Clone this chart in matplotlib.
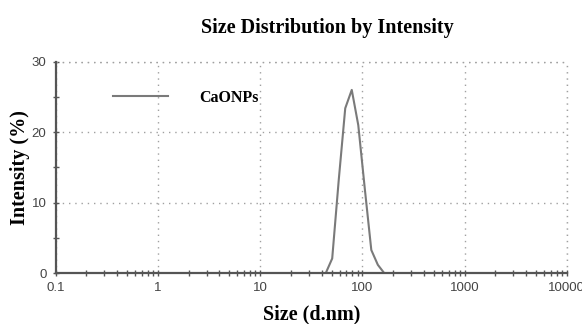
import matplotlib
matplotlib.use("Agg")
import matplotlib.pyplot as plt
from matplotlib.ticker import LogLocator, FixedLocator, NullFormatter

sizes = [0.4, 43.82, 50.75, 58.77, 68.06, 78.82, 91.28, 105.7, 122.4, 141.8, 164.2, 10000]
intensity = [0, 0, 2.1, 13.2, 23.4, 26.0, 21.0, 12.0, 3.3, 1.2, 0, 0]
series_name = "CaONPs"
x_ticks = [0.1, 1, 10, 100, 1000, 10000]
x_tick_labels = ["0.1", "1", "10", "100", "1000", "10000"]
y_ticks = [0, 10, 20, 30]

fig = plt.figure(figsize=(5.82, 3.24), dpi=100)
fig.patch.set_facecolor("white")
ax = fig.add_axes([0.0954, 0.1565, 0.8786, 0.6531])
ax.set_facecolor("white")

ax.plot(sizes, intensity, color="#7a7a7a", lw=1.5, label=series_name)

ax.set_xscale("log")
ax.set_xlim(0.1, 10000)
ax.set_ylim(0, 30)
ax.set_xticks(x_ticks)
ax.set_xticklabels(x_tick_labels)
ax.set_yticks(y_ticks)
ax.xaxis.set_minor_locator(LogLocator(base=10, subs=range(2, 10), numticks=100))
ax.xaxis.set_minor_formatter(NullFormatter())
ax.yaxis.set_minor_locator(FixedLocator([5, 15, 25]))

for s in ["top", "right"]:
    ax.spines[s].set_visible(False)
for s in ["left", "bottom"]:
    ax.spines[s].set_color("#555555")
    ax.spines[s].set_linewidth(1.6)

ax.tick_params(which="both", direction="inout", color="#555555", labelcolor="#444444",
               labelsize=9.5, width=1.0)
ax.tick_params(which="major", length=5, pad=4)
ax.tick_params(which="minor", length=4)
for lbl in ax.get_xticklabels() + ax.get_yticklabels():
    lbl.set_fontfamily("Liberation Sans")

ax.grid(True, which="major", linestyle=(0, (1, 3.5)), color="#a0a0a0", linewidth=1.0)
ax.axhline(30, linestyle=(0, (1, 3.5)), color="#a0a0a0", linewidth=1.0, clip_on=False)
ax.axvline(10000, linestyle=(0, (1, 3.5)), color="#a0a0a0", linewidth=1.0, clip_on=False)

ax.set_xlabel("Size (d.nm)", fontfamily="Liberation Serif", fontweight="bold",
              fontsize=14.5, labelpad=7)
ax.set_ylabel("Intensity (%)", fontfamily="Liberation Serif", fontweight="bold",
              fontsize=14.5)
ax.yaxis.set_label_coords(-0.05, 0.5)
fig.text(0.563, 0.915, "Size Distribution by Intensity", ha="center", va="center",
         fontfamily="Liberation Serif", fontweight="bold", fontsize=14.5)

leg = ax.legend(loc="upper left", bbox_to_anchor=(0.085, 0.935), frameon=False,
                prop={"family": "Liberation Serif", "weight": "bold", "size": 11.5},
                handlelength=3.4, handletextpad=2.0)

fig.savefig("out.png", dpi=100)
